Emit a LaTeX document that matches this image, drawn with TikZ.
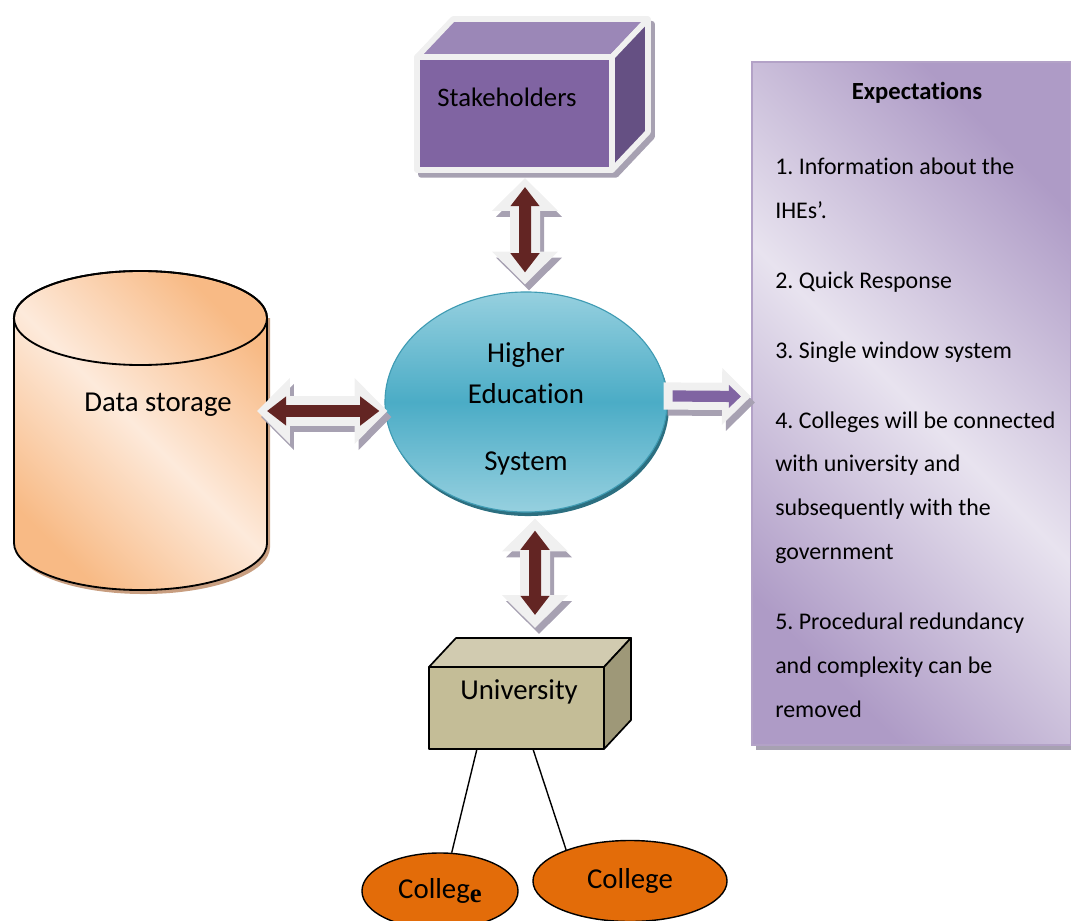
\documentclass[tikz,border=0pt]{standalone}
\usepackage{fontspec}
\setmainfont{Carlito}[Ligatures=NoCommon]
\newfontfamily\serifbold{Liberation Serif}
\usetikzlibrary{calc, positioning, arrows.meta, shapes.geometric}
\frenchspacing

\definecolor{stakefront}{HTML}{8064A2}
\definecolor{staketop}{HTML}{9B87B7}
\definecolor{stakeside}{HTML}{655083}
\definecolor{boxrim}{HTML}{F0F0F0}
\definecolor{rimshadow}{HTML}{A7A1B2}
\definecolor{hesmid}{HTML}{4BACC6}
\definecolor{heslight}{HTML}{96D0DF}
\definecolor{hesline}{HTML}{3F9BB3}
\definecolor{hesshadow}{HTML}{2C6F80}
\definecolor{peachdark}{HTML}{F8BA85}
\definecolor{peachlight}{HTML}{FDEADB}
\definecolor{peachshadow}{HTML}{C89E80}
\definecolor{lavdark}{HTML}{AE9BC6}
\definecolor{lavlight}{HTML}{E8E3EF}
\definecolor{lavline}{HTML}{B3A2C7}
\definecolor{unifront}{HTML}{C4BD97}
\definecolor{unitop}{HTML}{D1CBB0}
\definecolor{uniside}{HTML}{9E9878}
\definecolor{collegefill}{HTML}{E36C09}
\definecolor{arrowred}{HTML}{632523}
\definecolor{arrowpurple}{HTML}{8064A2}

\begin{document}
\begin{tikzpicture}[x=0.025cm, y=-0.025cm,
    txt/.style={font=\fontsize{20.5}{29}\selectfont, inner sep=0pt},
    outerarrow/.style={line width=0.75cm, color=boxrim,
      {Triangle[width=1.6cm, length=0.82cm]}-{Triangle[width=1.6cm, length=0.82cm]}},
    innerarrow/.style={line width=0.3cm, color=arrowred,
      {Triangle[width=0.7cm, length=0.48cm]}-{Triangle[width=0.7cm, length=0.48cm]}},
    onearrow/.style={line width=0.68cm, color=boxrim, -{Triangle[width=1.38cm, length=0.72cm]}},
    oneinner/.style={line width=0.28cm, color=arrowpurple, -{Triangle[width=0.56cm, length=0.3cm]}},
    dropshadow/.style={color=rimshadow, transform canvas={xshift=0.1cm, yshift=-0.15cm}},
    boxface/.style={line width=0.14cm, draw=boxrim, line join=round},
    cubeface/.style={line width=1.2pt, draw=black, line join=round},
    college/.style={ellipse, draw=black, line width=1pt, fill=collegefill, inner sep=0pt,
      font=\fontsize{20.5}{24}\selectfont}]

  \useasboundingbox (0,0) rectangle (1071,920);
  \clip (0,0) rectangle (1071,920);

  % stakeholders box
  \node[minimum width=4.875cm, minimum height=2.825cm, inner sep=0pt, outer sep=0pt] (stake) at (514.5,113.5) {};
  \filldraw[rimshadow, line width=0.14cm, line join=round, transform canvas={xshift=0.1cm, yshift=-0.12cm}]
    (stake.south west) -- (stake.north west) -- ++(36,-38) -- ++(195,0) -- ++(0,113) -- (stake.south east) -- cycle;
  \filldraw[boxface, fill=stakefront] (stake.south west) rectangle (stake.north east);
  \filldraw[boxface, fill=staketop] (stake.north west) -- ++(36,-38) -- ++(195,0) -- (stake.north east) -- cycle;
  \filldraw[boxface, fill=stakeside] (stake.north east) -- ++(36,-38) -- ++(0,113) -- (stake.south east) -- cycle;
  \node[txt, font=\fontsize{19}{23}\selectfont] (staketxt) at (507,97) {Stakeholders};

  % data storage
  \fill[peachshadow] (17,318) -- (17,547) arc[start angle=180, end angle=360, x radius=3.1625cm, y radius=1.175cm]
    -- (270,318) -- cycle;
  \draw[line width=1.3pt, left color=peachdark, right color=peachdark, middle color=peachlight, shading angle=-45]
    (14,318) -- (14,543) arc[start angle=180, end angle=360, x radius=3.1625cm, y radius=1.175cm]
    -- (267,318) arc[start angle=0, end angle=180, x radius=3.1625cm, y radius=1.175cm] -- cycle;
  \draw[line width=1.3pt] (140.5,318) ellipse [x radius=3.1625cm, y radius=1.175cm];
  \node[txt] (store) at (158,405) {Data storage};
  \coordinate (storeE) at (257,411);

  % higher education system
  \fill[hesshadow] (528,406) ellipse [x radius=3.525cm, y radius=2.75cm];
  \node[ellipse, minimum width=7.05cm, minimum height=5.5cm, inner sep=0pt, draw=hesline, line width=0.8pt,
    top color=heslight, bottom color=heslight, middle color=hesmid] (hes) at (526,402) {};
  \node[txt, align=center] (hestxt) at (526,409) {Higher\\Education\\[19pt]System};

  % expectations
  \fill[rimshadow] (756,67) rectangle (1075,750);
  \node[minimum width=7.975cm, minimum height=17.075cm, inner sep=0pt, draw=lavline, line width=1.5pt,
    top color=lavdark, bottom color=lavdark, middle color=lavlight, shading angle=-45] (expect) at (911.5,403.5) {};
  \node[font=\fontsize{17.5}{21}\selectfont\bfseries, inner sep=0pt] (exphead) at (917,93) {Expectations};
  \node[anchor=north west, align=left, inner sep=0pt, font=\fontsize{17}{31.2}\selectfont] (explist) at (775,158)
    {1. Information about the\\
     IHEs’.\\[18.4pt]
     2. Quick Response\\[18.4pt]
     3. Single window system\\[18.4pt]
     4. Colleges will be connected\\
     with university and\\
     subsequently with the\\
     government\\[18.4pt]
     5. Procedural redundancy\\
     and complexity can be\\
     removed};

  % university
  \node[minimum width=4.375cm, minimum height=2.05cm, inner sep=0pt, outer sep=0pt, cubeface, fill=unifront] (univ) at (516.5,708) {};
  \filldraw[cubeface, fill=unitop] (univ.north west) -- ++(27,-29) -- ++(175,0) -- (univ.north east) -- cycle;
  \filldraw[cubeface, fill=uniside] (univ.north east) -- ++(27,-29) -- ++(0,82) -- (univ.south east) -- cycle;
  \node[txt] (unitxt) at (519,692) {University};

  % colleges
  \node[college, minimum width=3.9cm, minimum height=1.9cm] (coll1) at (440,891)
    {Colleg\raisebox{-3pt}{\serifbold\bfseries\fontsize{19}{20}\selectfont e}};
  \node[college, minimum width=4.85cm, minimum height=2.025cm] (coll2) at (630,881) {College};
  \draw[line width=1pt] ($(univ.south west)!0.274!(univ.south east)$) -- (coll1.73);
  \draw[line width=1pt] ($(univ.south west)!0.594!(univ.south east)$) -- (coll2.154);

  % block arrows
  \draw[outerarrow, dropshadow] ($(hes.north)+(-1,-7)$) -- ($(stake.south)+(10.5,8)$);
  \draw[outerarrow] ($(hes.north)+(-1,-7)$) -- ($(stake.south)+(10.5,8)$);
  \draw[innerarrow] ($(hes.north)+(-1,-19)$) -- ($(stake.south)+(10.5,17)$);

  \draw[outerarrow, dropshadow] (storeE) -- ($(hes.west)+(3,9)$);
  \draw[outerarrow] (storeE) -- ($(hes.west)+(3,9)$);
  \draw[innerarrow] ($(storeE)+(10,0)$) -- ($(hes.west)+(-5,9)$);

  \draw[outerarrow, dropshadow] ($(hes.south)+(9,6)$) -- ($(univ.north)+(18.5,-39)$);
  \draw[outerarrow] ($(hes.south)+(9,6)$) -- ($(univ.north)+(18.5,-39)$);
  \draw[innerarrow] ($(hes.south)+(9,18)$) -- ($(univ.north)+(18.5,-52)$);

  \draw[onearrow, dropshadow] ($(hes.east)+(-4,-6)$) -- ($(expect.west)+(0,-7)$);
  \draw[onearrow] ($(hes.east)+(-4,-6)$) -- ($(expect.west)+(0,-7)$);
  \draw[oneinner] ($(hes.east)+(5,-6)$) -- ($(expect.west)+(-10,-7)$);
\end{tikzpicture}
\end{document}
